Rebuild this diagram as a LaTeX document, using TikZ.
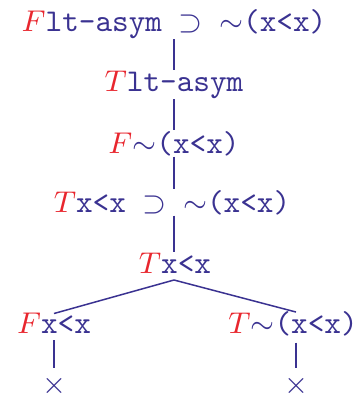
\documentclass[tikz,border=0pt]{standalone}
\usepackage{xcolor}
\definecolor{tblue}{RGB}{58,50,145}
\definecolor{tred}{RGB}{232,38,46}
\newcommand{\sF}{{\color{tred}$F$}}
\newcommand{\sT}{{\color{tred}$T$}}
\tikzset{
  fnode/.style={inner sep=0.3pt, outer sep=0pt, anchor=base, text=tblue, font=\fontsize{9.5pt}{11pt}\selectfont\ttfamily},
  xnode/.style={inner sep=0pt, text=tblue, font=\fontsize{9.5pt}{11pt}\selectfont},
  vline/.style={draw=tblue, line width=0.6pt},
  bline/.style={draw=tblue, line width=0.45pt}
}
\begin{document}
\begin{tikzpicture}[x=0.3pt,y=-0.3pt]
\useasboundingbox (0,0) rectangle (363,396);
\node[fnode] (n1) at (174,31) {\sF lt-asym $\supset$ $\sim$(x<x)};
\node[fnode] (n2) at (174,91) {\sT lt-asym};
\node[fnode] (n3) at (174,153) {\sF$\sim$(x<x)};
\node[fnode] (n4) at (172,212) {\sT x<x $\supset$ $\sim$(x<x)};
\node[fnode] (n5) at (175,273) {\sT x<x};
\node[fnode] (n6) at (54,333) {\sF x<x};
\node[fnode] (n7) at (293,333) {\sT$\sim$(x<x)};
\node[xnode] (c6) at (54,386) {$\times$};
\node[xnode] (c7) at (296,386) {$\times$};
\draw[vline] (n1.south -| 174,0) -- (n2.north -| 174,0);
\draw[vline] (n2.south -| 174,0) -- (n3.north -| 174,0);
\draw[vline] (n3.south -| 174,0) -- (n4.north -| 174,0);
\draw[vline] (n4.south -| 174,0) -- (n5.north -| 174,0);
\coordinate (b5) at ([yshift=-1.8pt]n5.south -| 174,0);
\draw[bline] (b5) -- ([yshift=-0.6pt]n6.north);
\draw[bline] (b5) -- ([yshift=-0.6pt]n7.north -| c7);
\draw[vline] ([yshift=-1.8pt]n6.south) -- ([yshift=2pt]c6.north);
\draw[vline] ([yshift=-1.8pt]n7.south -| c7) -- ([yshift=2pt]c7.north);
\end{tikzpicture}
\end{document}
